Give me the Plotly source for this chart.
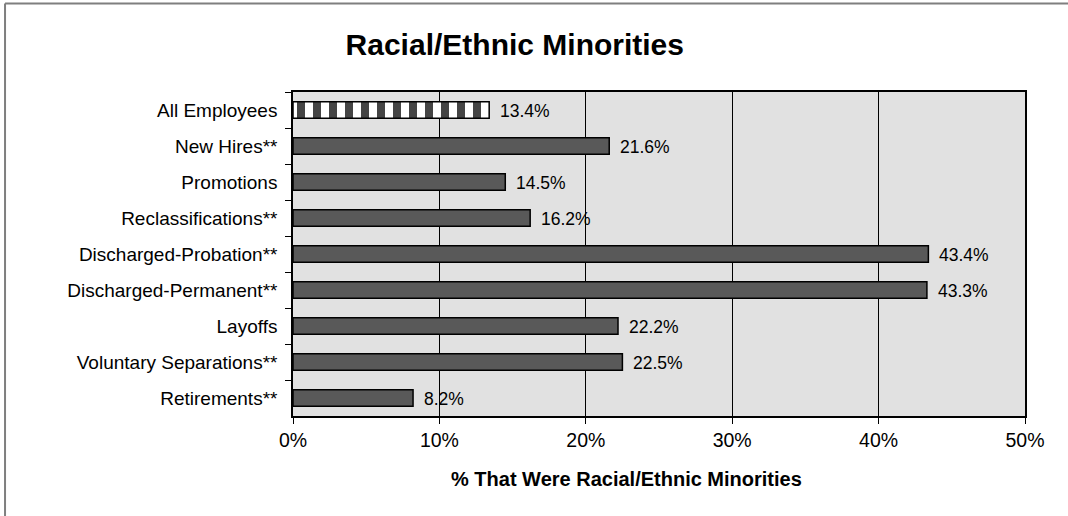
import plotly.graph_objects as go

# Share of each personnel action that involved racial/ethnic minorities
categories = [
    "All Employees",
    "New Hires**",
    "Promotions",
    "Reclassifications**",
    "Discharged-Probation**",
    "Discharged-Permanent**",
    "Layoffs",
    "Voluntary Separations**",
    "Retirements**",
]
percent_minority = [13.4, 21.6, 14.5, 16.2, 43.4, 43.3, 22.2, 22.5, 8.2]
x_tick_values = [0, 10, 20, 30, 40, 50]
x_tick_labels = ["0%", "10%", "20%", "30%", "40%", "50%"]

FONT = "Liberation Sans, Arial, sans-serif"
BAR_DARK = "#595959"

# The baseline row gets a patterned fill, the rest are solid dark gray
patterns = ["|"] + [""] * (len(categories) - 1)
fill_colors = ["white"] + [BAR_DARK] * (len(categories) - 1)

fig = go.Figure()
fig.add_trace(
    go.Bar(
        x=percent_minority,
        y=categories,
        orientation="h",
        width=0.46,
        marker=dict(
            color=fill_colors,
            line=dict(color="black", width=1.5),
            pattern=dict(
                shape=patterns,
                fgcolor=BAR_DARK,
                fgopacity=1,
                size=16,
                solidity=0.5,
                fillmode="overlay",
            ),
        ),
        hoverinfo="skip",
    )
)

# Value labels just past the end of each bar
for cat, val in zip(categories, percent_minority):
    fig.add_annotation(
        x=val,
        y=cat,
        text=f"{val:.1f}%",
        showarrow=False,
        xanchor="left",
        xshift=9,
        yshift=-1,
        font=dict(family=FONT, size=17.5, color="black"),
    )

# Horizontal axis title
fig.add_annotation(
    x=0.456,
    y=-0.194,
    xref="paper",
    yref="paper",
    text="<b>% That Were Racial/Ethnic Minorities</b>",
    showarrow=False,
    xanchor="center",
    yanchor="middle",
    font=dict(family=FONT, size=20, color="black"),
)

# Gray outer frame along the top and left edges of the page
frame = dict(color="#7f7f7f", width=2)
fig.add_shape(type="line", xref="paper", yref="paper",
              x0=-0.3934, x1=1.12, y0=1.2731, y1=1.2731, line=frame)
fig.add_shape(type="line", xref="paper", yref="paper",
              x0=-0.3934, x1=-0.3934, y0=1.2731, y1=-0.35, line=frame)

fig.update_layout(
    width=1068,
    height=516,
    margin=dict(l=293, r=43, t=92, b=100),
    paper_bgcolor="white",
    plot_bgcolor="#e1e1e1",
    showlegend=False,
    title=dict(
        text="<b>Racial/Ethnic Minorities</b>",
        x=0.303,
        xref="paper",
        xanchor="center",
        y=0.913,
        yref="container",
        yanchor="middle",
        font=dict(family=FONT, size=30, color="black"),
    ),
    xaxis=dict(
        range=[0, 50],
        tickvals=x_tick_values,
        ticktext=x_tick_labels,
        showgrid=True,
        gridcolor="black",
        gridwidth=1,
        zeroline=False,
        showline=True,
        linecolor="black",
        linewidth=1.5,
        mirror=True,
        ticks="outside",
        ticklen=6,
        tickcolor="black",
        tickfont=dict(family=FONT, size=19.5, color="black"),
    ),
    yaxis=dict(
        autorange="reversed",
        showgrid=False,
        showline=True,
        linecolor="black",
        linewidth=1.5,
        mirror=True,
        ticks="outside",
        tickson="boundaries",
        ticklen=6,
        tickcolor="black",
        ticklabelstandoff=10,
        tickfont=dict(family=FONT, size=19, color="black"),
    ),
)

fig.write_html("out.html")
